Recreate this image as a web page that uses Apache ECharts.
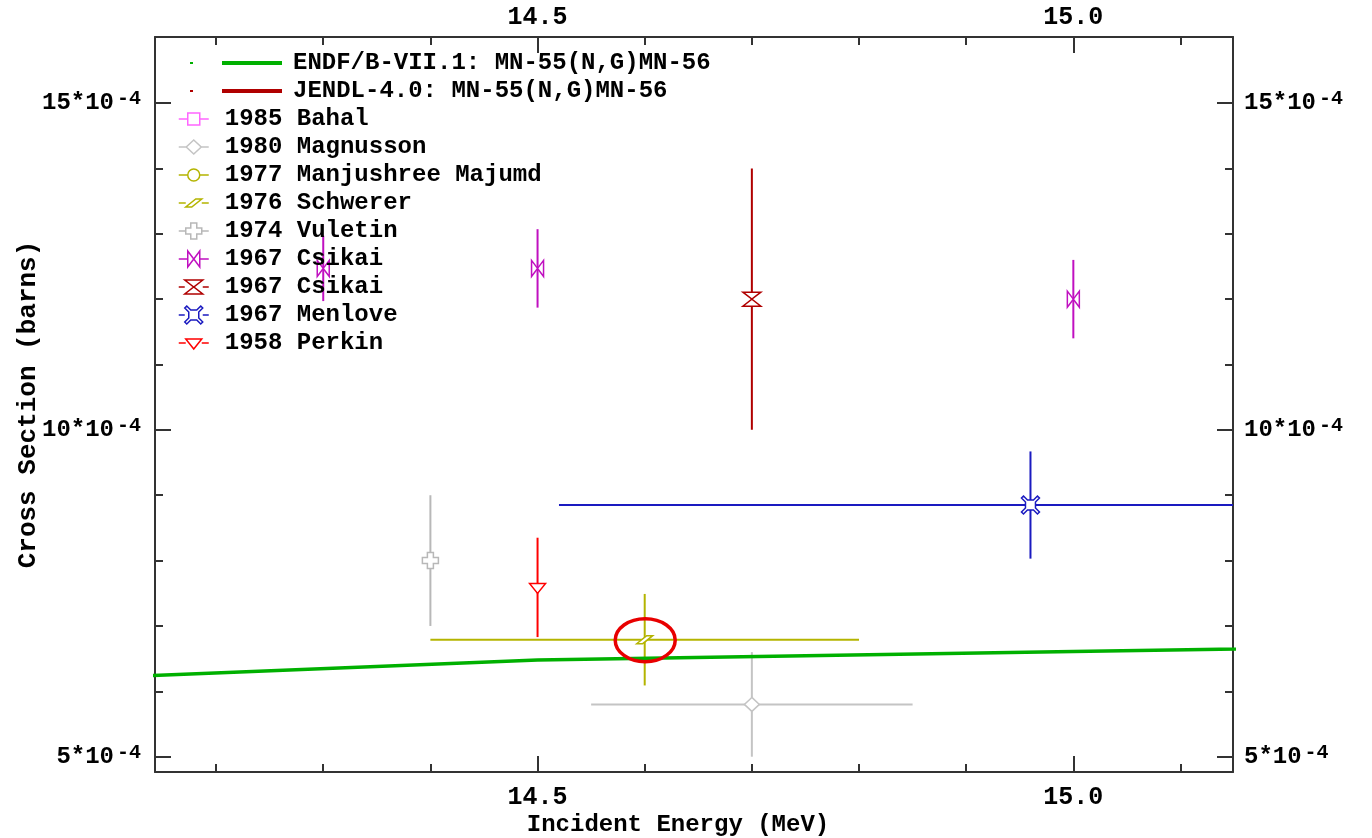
<!DOCTYPE html>
<html>
<head>
<meta charset="utf-8">
<script src="https://cdn.jsdelivr.net/npm/echarts@6/dist/echarts.min.js"></script>
<style>
  html, body { margin: 0; padding: 0; background: #ffffff; }
  #chart { width: 1372px; height: 838px; }
</style>
</head>
<body>
<div id="chart"></div>
<script>
// Cross sections are kept in units of 1e-4 barns; energies in MeV.
const FONT = '"Liberation Mono", "DejaVu Sans Mono", monospace';

// Axis extents and tick positions
const X_MIN = 14.143, X_MAX = 15.149;
const Y_MIN = 4.766, Y_MAX = 16.01;
const xMajorTicks = [14.5, 15.0];
const xMinorTicks = [14.2, 14.3, 14.4, 14.6, 14.7, 14.8, 14.9, 15.1];
const yMajorTicks = [5, 10, 15];
const yMinorTicks = [6, 7, 8, 9, 11, 12, 13, 14];

// Evaluated data, MN-55(N,G)MN-56
const endfEnergy = [14.0, 14.5, 15.0, 15.5];
const endfXs = [6.15, 6.48, 6.61, 6.74];
const jendlEnergy = [];
const jendlXs = [];

// Measurements: energy, energy half-width, cross section, cross-section uncertainty
const bahalE = [], bahalDE = [], bahalXs = [], bahalDXs = [];
const magnussonE = [14.7], magnussonDE = [0.15], magnussonXs = [5.8], magnussonDXs = [0.8];
const majumdE = [], majumdDE = [], majumdXs = [], majumdDXs = [];
const schwererE = [14.6], schwererDE = [0.2], schwererXs = [6.79], schwererDXs = [0.7];
const vuletinE = [14.4], vuletinDE = [0], vuletinXs = [8.0], vuletinDXs = [1.0];
const csikaiAE = [14.3, 14.5, 15.0], csikaiADE = [0, 0, 0], csikaiAXs = [12.47, 12.47, 12.0], csikaiADXs = [0.5, 0.6, 0.6];
const csikaiBE = [14.7], csikaiBDE = [0], csikaiBXs = [12.0], csikaiBDXs = [2.0];
const menloveE = [14.96], menloveDE = [0.44], menloveXs = [8.85], menloveDXs = [0.82];
const perkinE = [14.5], perkinDE = [0], perkinXs = [7.59], perkinDXs = [0.76];

// Marker outlines, centred on (cx, cy); hw = half width of the marker
const MARKERS = {
  square:   { hw: 6, path: (cx, cy) => `M${cx-6},${cy-6}H${cx+6}V${cy+6}H${cx-6}Z` },
  diamond:  { hw: 7.5, path: (cx, cy) => `M${cx},${cy-7}L${cx+7.5},${cy}L${cx},${cy+7}L${cx-7.5},${cy}Z` },
  circle:   { hw: 6, path: (cx, cy) => `M${cx-6},${cy}A6,6,0,1,0,${cx+6},${cy}A6,6,0,1,0,${cx-6},${cy}Z` },
  slant:    { hw: 8, path: (cx, cy) => `M${cx-8},${cy+4}L${cx-2},${cy+4}L${cx+8},${cy-4}L${cx+2},${cy-4}Z` },
  plus:     { hw: 8, path: (cx, cy) => `M${cx-3},${cy-8}h6v5h5v6h-5v5h-6v-5h-5v-6h5Z` },
  bowtie:   { hw: 6, path: (cx, cy) => `M${cx-6},${cy-8}L${cx},${cy}L${cx-6},${cy+8}Z M${cx+6},${cy-8}L${cx},${cy}L${cx+6},${cy+8}Z` },
  hourglass:{ hw: 9, path: (cx, cy) => `M${cx-9},${cy-7}H${cx+9}L${cx},${cy}Z M${cx-9},${cy+7}H${cx+9}L${cx},${cy}Z` },
  cross:    { hw: 9, path: (cx, cy) => `M${cx-7},${cy-9}L${cx-3},${cy-5}H${cx+3}L${cx+7},${cy-9}L${cx+9},${cy-7}L${cx+5},${cy-3}V${cy+3}L${cx+9},${cy+7}L${cx+7},${cy+9}L${cx+3},${cy+5}H${cx-3}L${cx-7},${cy+9}L${cx-9},${cy+7}L${cx-5},${cy+3}V${cy-3}L${cx-9},${cy-7}Z` },
  triangle: { hw: 8, path: (cx, cy) => `M${cx-8},${cy-4}H${cx+8}L${cx},${cy+6}Z` }
};

const experiments = [
  { name: '1985 Bahal',            color: '#ff66ff', marker: 'square',    e: bahalE,     de: bahalDE,     xs: bahalXs,     dxs: bahalDXs },
  { name: '1980 Magnusson',        color: '#c4c4c4', marker: 'diamond',   e: magnussonE, de: magnussonDE, xs: magnussonXs, dxs: magnussonDXs },
  { name: '1977 Manjushree Majumd',color: '#b4b400', marker: 'circle',    e: majumdE,    de: majumdDE,    xs: majumdXs,    dxs: majumdDXs },
  { name: '1976 Schwerer',         color: '#b4b400', marker: 'slant',     e: schwererE,  de: schwererDE,  xs: schwererXs,  dxs: schwererDXs },
  { name: '1974 Vuletin',          color: '#b8b8b8', marker: 'plus',      e: vuletinE,   de: vuletinDE,   xs: vuletinXs,   dxs: vuletinDXs },
  { name: '1967 Csikai',           color: '#c010c0', marker: 'bowtie',    e: csikaiAE,   de: csikaiADE,   xs: csikaiAXs,   dxs: csikaiADXs },
  { name: '1967 Csikai ',          color: '#b00000', marker: 'hourglass', e: csikaiBE,   de: csikaiBDE,   xs: csikaiBXs,   dxs: csikaiBDXs },
  { name: '1967 Menlove',          color: '#1a1ac0', marker: 'cross',     e: menloveE,   de: menloveDE,   xs: menloveXs,   dxs: menloveDXs },
  { name: '1958 Perkin',           color: '#ff0000', marker: 'triangle',  e: perkinE,    de: perkinDE,    xs: perkinXs,    dxs: perkinDXs }
];

// The point singled out with a ring
const ringed = { name: '1976 Schwerer', index: 0 };

const clampX = v => Math.min(X_MAX, Math.max(X_MIN, v));
const clampY = v => Math.min(Y_MAX, Math.max(Y_MIN, v));

function errorBarSeries(exp) {
  const m = MARKERS[exp.marker];
  return {
    type: 'custom',
    name: exp.name,
    z: 3,
    itemStyle: { color: exp.color },
    data: exp.e.map((e, i) => [e, exp.xs[i], exp.de[i], exp.dxs[i]]),
    renderItem: (params, api) => {
      const x = api.value(0), y = api.value(1), dx = api.value(2), dy = api.value(3);
      const c = api.coord([x, y]);
      const kids = [];
      if (dx > 0) {
        const a = api.coord([clampX(x - dx), y]), b = api.coord([clampX(x + dx), y]);
        kids.push({ type: 'line', shape: { x1: a[0], y1: a[1], x2: b[0], y2: b[1] },
                    style: { stroke: exp.color, lineWidth: 2 } });
      }
      if (dy > 0) {
        const a = api.coord([x, clampY(y + dy)]), b = api.coord([x, clampY(y - dy)]);
        kids.push({ type: 'line', shape: { x1: a[0], y1: a[1], x2: b[0], y2: b[1] },
                    style: { stroke: exp.color, lineWidth: 2 } });
      }
      kids.push({ type: 'path', shape: { pathData: m.path(c[0], c[1]) },
                  style: { fill: '#ffffff', stroke: exp.color, lineWidth: 1.5 } });
      return { type: 'group', children: kids };
    }
  };
}

function legendIconPath(exp) {
  const m = MARKERS[exp.marker];
  const cx = 15, cy = 9;
  return 'path://M0,' + cy + 'H' + (cx - m.hw) + ' M' + (cx + m.hw) + ',' + cy + 'H30 M15,0 M15,18 ' + m.path(cx, cy);
}

const ringedExp = experiments.find(d => d.name === ringed.name);

const labelText = { color: '#000', fontFamily: FONT, fontWeight: 'bold', fontSize: 25 };
const yRich = {
  b: { color: '#000', fontFamily: FONT, fontWeight: 'bold', fontSize: 24, lineHeight: 28 },
  s: { color: '#000', fontFamily: FONT, fontWeight: 'bold', fontSize: 20, lineHeight: 20, verticalAlign: 'top', padding: [0, 0, 0, 3] }
};
const yFormat = v => '{b|' + Math.round(v) + '*10}{s|-4}';
const lineColor = '#333333';

function xAxisPair(position, withName) {
  return [{
    type: 'value', position, min: X_MIN, max: X_MAX,
    axisLine: { show: true, lineStyle: { color: lineColor, width: 2 } },
    axisTick: { show: true, inside: true, length: 16, customValues: xMajorTicks, lineStyle: { color: lineColor, width: 2 } },
    axisLabel: { show: true, customValues: xMajorTicks, formatter: v => v.toFixed(1),
                 margin: position === 'top' ? 7 : 13, ...labelText },
    splitLine: { show: false },
    name: withName ? 'Incident Energy (MeV)' : '',
    nameLocation: 'middle', nameGap: 41, nameMoveOverlap: false,
    nameTextStyle: { color: '#000', fontFamily: FONT, fontWeight: 'bold', fontSize: 24, padding: [0, 32, 0, 0] }
  }, {
    type: 'value', position, min: X_MIN, max: X_MAX,
    axisLine: { show: false },
    axisTick: { show: true, inside: true, length: 8, customValues: xMinorTicks, lineStyle: { color: lineColor, width: 2 } },
    axisLabel: { show: false },
    splitLine: { show: false }
  }];
}

function yAxisPair(position, withName) {
  return [{
    type: 'value', position, min: Y_MIN, max: Y_MAX,
    axisLine: { show: true, lineStyle: { color: lineColor, width: 2 } },
    axisTick: { show: true, inside: true, length: 16, customValues: yMajorTicks, lineStyle: { color: lineColor, width: 2 } },
    axisLabel: { show: true, customValues: yMajorTicks, formatter: yFormat, rich: yRich, margin: position === 'left' ? 14 : 11 },
    splitLine: { show: false },
    name: withName ? 'Cross Section (barns)' : '',
    nameLocation: 'middle', nameGap: 114, nameRotate: 90, nameMoveOverlap: false,
    nameTextStyle: { color: '#000', fontFamily: FONT, fontWeight: 'bold', fontSize: 26 }
  }, {
    type: 'value', position, min: Y_MIN, max: Y_MAX,
    axisLine: { show: false },
    axisTick: { show: true, inside: true, length: 8, customValues: yMinorTicks, lineStyle: { color: lineColor, width: 2 } },
    axisLabel: { show: false },
    splitLine: { show: false }
  }];
}

const chart = echarts.init(document.getElementById('chart'), null, { renderer: 'canvas' });

const option = {
  animation: false,
  backgroundColor: '#ffffff',
  grid: { left: 155, right: 139, top: 37, bottom: 66, containLabel: false, outerBoundsMode: 'none' },
  xAxis: [...xAxisPair('bottom', true), ...xAxisPair('top', false)],
  yAxis: [...yAxisPair('left', true), ...yAxisPair('right', false)],
  legend: [{
    orient: 'vertical', left: 190, top: 49, padding: 0, itemGap: 0,
    selectedMode: false, symbolKeepAspect: true,
    itemWidth: 92, itemHeight: 4,
    textStyle: { color: '#000', fontFamily: FONT, fontWeight: 'bold', fontSize: 24, lineHeight: 28, padding: [0, 0, 0, 6] },
    data: [
      { name: 'ENDF/B-VII.1: MN-55(N,G)MN-56', icon: 'path://M0,1h3v2h-3z M32,0h60v4h-60z', itemStyle: { color: '#00b000', borderWidth: 0 } },
      { name: 'JENDL-4.0: MN-55(N,G)MN-56', icon: 'path://M0,1h3v2h-3z M32,0h60v4h-60z', itemStyle: { color: '#b00000', borderWidth: 0 } }
    ]
  }, {
    orient: 'vertical', left: 178, top: 105, padding: 0, itemGap: 0,
    selectedMode: false, symbolKeepAspect: true,
    itemWidth: 30, itemHeight: 18,
    textStyle: { color: '#000', fontFamily: FONT, fontWeight: 'bold', fontSize: 24, lineHeight: 28, padding: [0, 0, 0, 11] },
    data: experiments.map(d => ({
      name: d.name, icon: legendIconPath(d),
      itemStyle: { color: '#ffffff', borderColor: d.color, borderWidth: 1.5 }
    }))
  }],
  series: [
    {
      type: 'line', name: 'JENDL-4.0: MN-55(N,G)MN-56',
      data: jendlEnergy.map((e, i) => [e, jendlXs[i]]),
      showSymbol: false, clip: true, z: 4,
      lineStyle: { color: '#b00000', width: 3.5 }, itemStyle: { color: '#b00000' }
    },
    ...experiments.map(errorBarSeries),
    {
      type: 'line', name: 'ENDF/B-VII.1: MN-55(N,G)MN-56',
      data: endfEnergy.map((e, i) => [e, endfXs[i]]),
      showSymbol: false, clip: true, z: 5,
      lineStyle: { color: '#00b000', width: 3.5, cap: 'butt' }, itemStyle: { color: '#00b000' }
    },
    {
      type: 'custom', name: 'ring', z: 6, silent: true,
      data: [[ringedExp.e[ringed.index], ringedExp.xs[ringed.index]]],
      renderItem: (params, api) => {
        const c = api.coord([api.value(0), api.value(1)]);
        return { type: 'ellipse', shape: { cx: c[0] + 0.5, cy: c[1] + 0.5, rx: 30, ry: 21.5 },
                 style: { fill: 'none', stroke: '#e80000', lineWidth: 3.5 } };
      }
    }
  ]
};

chart.setOption(option);
</script>
</body>
</html>
